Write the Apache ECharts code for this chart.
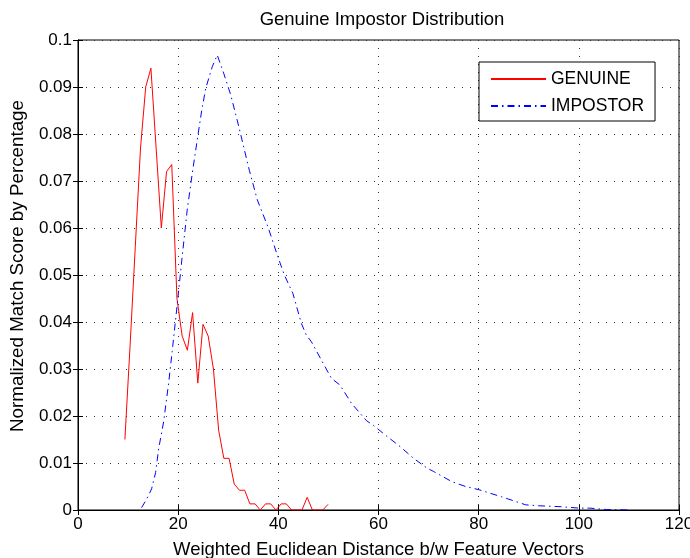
<!DOCTYPE html>
<html>
<head>
<meta charset="utf-8">
<script src="https://cdn.jsdelivr.net/npm/echarts@6/dist/echarts.min.js"></script>
<style>
  html, body { margin: 0; padding: 0; background: #fff; }
  #chart { width: 690px; height: 558px; }
</style>
</head>
<body>
<div id="chart"></div>
<script>
// values
var genuineX = [9.36, 10.4, 11.44, 12.48, 13.52, 14.56, 15.6, 16.64, 17.68, 18.72,
  19.76, 20.8, 21.84, 22.88, 23.92, 24.96, 26.0, 27.04, 28.08, 29.12,
  30.16, 31.2, 32.24, 33.28, 34.32, 35.36, 36.4, 37.44, 38.48, 39.52,
  40.56, 41.6, 42.64, 43.68, 44.72, 45.76, 46.8, 47.84, 48.88, 49.92];
var genuineY = [0.015, 0.035, 0.056, 0.077, 0.090, 0.094, 0.077, 0.060, 0.072, 0.0735,
  0.045, 0.037, 0.034, 0.042, 0.027, 0.0395, 0.037, 0.030, 0.017, 0.011,
  0.011, 0.0055, 0.0042, 0.0042, 0.0013, 0.0013, 0, 0.0013, 0.0013, 0,
  0.0013, 0.0013, 0, 0, 0, 0.0027, 0, 0, 0, 0.0012];

var impostorX = [12.7, 13.7, 14.7, 15.5, 16.1, 17.1, 18.1, 18.8, 19.8, 20.8,
  21.8, 22.8, 23.8, 24.7, 25.5, 26.8, 27.8, 29.1, 30.5, 32.1,
  34.2, 35.8, 37.9, 39.9, 41.2, 42.9, 44.6, 45.6, 46.6, 48.6,
  50.6, 52.3, 54.6, 57.6, 59.0, 61.3, 64.3, 67.0, 69.7, 71.0,
  74.7, 77.4, 80.1, 84.6, 89.4, 92.0, 96.5, 100.0, 102.2, 105.5, 110.5];
var impostorY = [0.0005, 0.0023, 0.0045, 0.008, 0.013, 0.0188, 0.027, 0.0337, 0.0436, 0.0539,
  0.0638, 0.0715, 0.0787, 0.085, 0.0897, 0.0943, 0.0968, 0.0929, 0.0883, 0.0816,
  0.0723, 0.066, 0.0603, 0.0539, 0.050, 0.0461, 0.0397, 0.0372, 0.0358, 0.0319,
  0.028, 0.0266, 0.0227, 0.019, 0.018, 0.016, 0.0135, 0.011, 0.0089, 0.0082,
  0.006, 0.005, 0.0043, 0.0028, 0.0011, 0.0009, 0.0007, 0.0004, 0.0004, 0.0001, 0];

var xTicks = { min: 0, max: 120, interval: 20 };
var yTicks = { min: 0, max: 0.1, interval: 0.01 };

function pairs(xs, ys) {
  return xs.map(function (x, i) { return [x, ys[i]]; });
}

var font = 'Liberation Sans, Arial, Helvetica, sans-serif';
var gridLine = { show: true, lineStyle: { color: '#333', width: 1, type: [1, 7] } };

var myChart = echarts.init(document.getElementById('chart'));

var option = {
  animation: false,
  backgroundColor: '#fff',
  title: {
    text: 'Genuine Impostor Distribution',
    left: 377,
    textAlign: 'center',
    top: 5,
    textStyle: { fontFamily: font, fontSize: 18.5, fontWeight: 'normal', color: '#000' }
  },
  legend: {
    orient: 'vertical',
    left: 479,
    top: 62,
    padding: [7, 11, 5, 11],
    itemWidth: 55,
    itemHeight: 14,
    itemGap: 7,
    backgroundColor: '#fff',
    borderColor: '#000',
    borderWidth: 1,
    borderRadius: 0,
    itemStyle: { opacity: 0 },
    textStyle: { fontFamily: font, fontSize: 17.5, color: '#000', lineHeight: 20 },
    data: ['GENUINE', 'IMPOSTOR']
  },
  grid: {
    left: 78,
    right: 11,
    top: 40,
    bottom: 48,
    outerBoundsMode: 'none',
    show: true,
    borderColor: '#000',
    borderWidth: 1,
    backgroundColor: '#fff'
  },
  xAxis: [
    {
      type: 'value',
      min: xTicks.min, max: xTicks.max, interval: xTicks.interval,
      name: 'Weighted Euclidean Distance b/w Feature Vectors',
      nameLocation: 'middle',
      nameGap: 30,
      nameTextStyle: { fontFamily: font, fontSize: 18.5, color: '#000' },
      axisLine: { show: true, lineStyle: { color: '#000', width: 1 } },
      axisTick: { show: true, inside: true, length: 5, lineStyle: { color: '#000' } },
      axisLabel: { fontFamily: font, fontSize: 17, color: '#000', margin: 6 },
      splitLine: gridLine
    },
    {
      type: 'value', position: 'top',
      min: xTicks.min, max: xTicks.max, interval: xTicks.interval,
      axisLine: { show: true, lineStyle: { color: '#000', width: 1 } },
      axisTick: { show: true, inside: true, length: 5, lineStyle: { color: '#000' } },
      axisLabel: { show: false },
      splitLine: { show: false }
    }
  ],
  yAxis: [
    {
      type: 'value',
      min: yTicks.min, max: yTicks.max, interval: yTicks.interval,
      name: 'Normalized Match Score by Percentage',
      nameLocation: 'middle',
      nameGap: 51,
      nameTextStyle: { fontFamily: font, fontSize: 18.8, color: '#000', padding: [0, 0, 0, 18] },
      axisLine: { show: true, lineStyle: { color: '#000', width: 1 } },
      axisTick: { show: true, inside: true, length: 5, lineStyle: { color: '#000' } },
      axisLabel: {
        fontFamily: font, fontSize: 17, color: '#000', margin: 6,
        formatter: function (v) { return String(+v.toFixed(2)); }
      },
      splitLine: gridLine
    },
    {
      type: 'value', position: 'right',
      min: yTicks.min, max: yTicks.max, interval: yTicks.interval,
      axisLine: { show: true, lineStyle: { color: '#000', width: 1 } },
      axisTick: { show: true, inside: true, length: 5, lineStyle: { color: '#000' } },
      axisLabel: { show: false },
      splitLine: { show: false }
    }
  ],
  series: [
    {
      name: 'GENUINE',
      type: 'line',
      symbol: 'none',
      color: '#ff0000',
      lineStyle: { color: '#ff0000', width: 1 },
      data: pairs(genuineX, genuineY)
    },
    {
      name: 'IMPOSTOR',
      type: 'line',
      symbol: 'none',
      color: '#0000ff',
      lineStyle: { color: '#0000ff', width: 1, type: [7, 4, 1.5, 4] },
      data: pairs(impostorX, impostorY)
    }
  ]
};

myChart.setOption(option);
</script>
</body>
</html>
